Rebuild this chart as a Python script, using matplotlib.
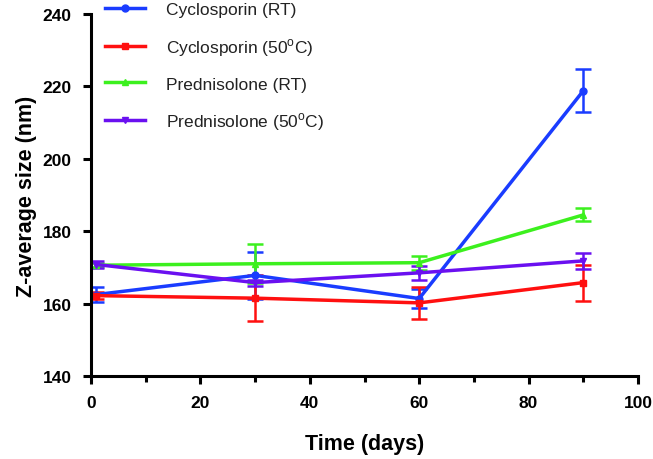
import matplotlib
matplotlib.use("Agg")
import matplotlib.pyplot as plt
from matplotlib.ticker import MultipleLocator
from matplotlib.lines import Line2D

plt.rcParams['font.family'] = ['Liberation Sans', 'DejaVu Sans']
plt.rcParams['mathtext.fontset'] = 'custom'
plt.rcParams['mathtext.rm'] = 'Liberation Sans'

days = [1, 30, 60, 90]
cyc_rt = [162.5, 167.8, 161.4, 218.8]
cyc_rt_err = [2.0, 6.5, 2.5, 6.0]
cyc_50 = [162.2, 161.5, 160.2, 165.8]
cyc_50_err = [1.0, 6.4, 4.4, 5.0]
pred_rt = [170.6, 171.0, 171.3, 184.5]
pred_rt_err = [0.6, 5.4, 1.9, 1.8]
pred_50 = [170.8, 165.8, 168.5, 171.8]
pred_50_err = [0.9, 0.8, 2.0, 2.3]

labels = ['Cyclosporin (RT)', r'Cyclosporin (50$^{\mathrm{o}}$C)',
          'Prednisolone (RT)', r'Prednisolone (50$^{\mathrm{o}}$C)']
colors = ['#1a3cff', '#ff1010', '#3cf01e', '#6a10f0']
markers = ['o', 's', '^', 'v']

fig = plt.figure(figsize=(6.53, 4.6), dpi=100)
ax = fig.add_axes([91/653, 1-377/460, (638-91)/653, (377-15)/460])

series = [(cyc_rt, cyc_rt_err), (cyc_50, cyc_50_err), (pred_rt, pred_rt_err), (pred_50, pred_50_err)]
handles = []
for (vals, errs), lab, c, m in zip(series, labels, colors, markers):
    ax.errorbar(days, vals, yerr=errs, color=c, marker=m, markersize=5,
                linewidth=2.5, elinewidth=1.8, capsize=6, capthick=1.8)
    handles.append(Line2D([], [], color=c, marker=m, markersize=5, linewidth=2.5))

ax.set_xlim(0, 100)
ax.set_ylim(140, 240)
ax.xaxis.set_major_locator(MultipleLocator(20))
ax.xaxis.set_minor_locator(MultipleLocator(10))
ax.yaxis.set_major_locator(MultipleLocator(20))
for s in ['top', 'right']:
    ax.spines[s].set_visible(False)
for s in ['left', 'bottom']:
    ax.spines[s].set_linewidth(2.2)
ax.tick_params(axis='both', which='major', length=6, width=2.2, labelsize=12.5, pad=8)
ax.tick_params(axis='x', which='minor', length=4, width=2.2)
for lbl in ax.get_xticklabels() + ax.get_yticklabels():
    lbl.set_fontweight('bold')

ax.set_xlabel('Time (days)', fontsize=15.5, fontweight='bold', labelpad=16)
ax.set_ylabel('Z-average size (nm)', fontsize=15.5, fontweight='bold', labelpad=4)

leg = fig.legend(handles=handles, labels=labels, loc='upper left',
                 bbox_to_anchor=(105/653, 1.0 - 3/460), frameon=False, fontsize=12.5,
                 handlelength=2.3, handletextpad=1.2, labelspacing=1.08,
                 borderaxespad=0, borderpad=0)
for t in leg.get_texts():
    t.set_color('#222222')

fig.savefig('out.png', dpi=100)
